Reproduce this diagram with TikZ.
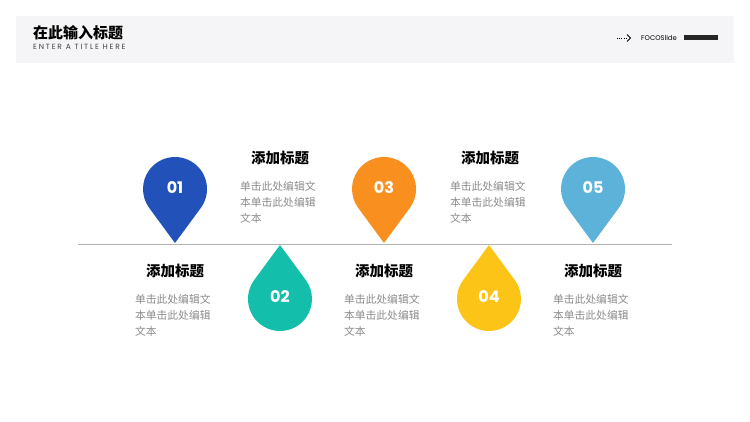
\documentclass[tikz,border=0pt]{standalone}
\usepackage{fontspec}
\setmainfont{Poppins}
\newfontfamily\cjk{Noto Sans CJK SC}
\usetikzlibrary{positioning}

\definecolor{dropblue}{HTML}{2151B9}
\definecolor{dropteal}{HTML}{13BEAA}
\definecolor{droporange}{HTML}{F98F1F}
\definecolor{dropyellow}{HTML}{FBC417}
\definecolor{dropsky}{HTML}{5CB2D9}
\definecolor{bandgray}{HTML}{F5F5F7}
\definecolor{bodygray}{HTML}{8C8C8C}

\begin{document}
\begin{tikzpicture}[x=1pt, y=-1pt,
    pics/waterdrop/.style={code={
      \fill[#1] (0,0) -- (25.8,-35.05) arc[start angle=36.3, end angle=-216.3, radius=32] -- cycle;}},
    num/.style={text=white, font=\fontsize{16}{16}\selectfont\bfseries, inner sep=0pt},
    headline/.style={font=\cjk\fontsize{14.5}{16}\selectfont\bfseries, inner sep=0pt},
    bodytext/.style={font=\cjk\fontsize{10.8}{16}\selectfont, text=bodygray, align=left, text width=80pt, inner sep=0pt}
]
\useasboundingbox (0,0) rectangle (750,422);

% --- header band ---
\fill[bandgray] (16,16) rectangle (734,63);
\node[anchor=west, inner sep=0pt, font=\cjk\fontsize{15}{16}\selectfont\bfseries] (title) at (33,33) {在此输入标题};
\node[anchor=west, inner sep=0pt, text=black!75, font=\fontsize{7.5}{8}\selectfont\addfontfeature{LetterSpace=24}] (subtitle) at (33,47) {ENTER A TITLE HERE};
\node[inner sep=0pt, font=\fontsize{6.8}{8}\selectfont] (brand) at (659,38) {FOCOSlide};
\coordinate (dots-a) at (617,38);
\coordinate (dots-b) at (626,38);
\draw[line width=0.8pt, dash pattern=on 0.8pt off 1.4pt] (dots-a) -- (dots-b);
\draw[line width=0.9pt] (627,34.5) -- (630.5,38) -- (627,41.5);
\fill[black!85] (684,35.5) rectangle (718,40.5);

% --- axis ---
\coordinate (axis-l) at (78,244);
\coordinate (axis-r) at (672,244);
\draw[black!30, line width=0.8pt] (axis-l) -- (axis-r);

% --- drops ---
\pic (d1) at (175,243) {waterdrop=dropblue};
\pic[rotate=180] (d2) at (280,245) {waterdrop=dropteal};
\pic (d3) at (384,243) {waterdrop=droporange};
\pic[rotate=180] (d4) at (489,245) {waterdrop=dropyellow};
\pic (d5) at (593,243) {waterdrop=dropsky};

\node[num] (n1) at (175,188) {01};
\node[num] (n2) at (280,297) {02};
\node[num] (n3) at (384,188) {03};
\node[num] (n4) at (489,297) {04};
\node[num] (n5) at (593,188) {05};

% --- labels above the axis ---
\node[headline] (h2) at (280,158) {添加标题};
\node[bodytext, below=16.5pt of h2] (b2) {单击此处编辑文\\本单击此处编辑\\文本};
\node[headline] (h4) at (490,158) {添加标题};
\node[bodytext, below=16.5pt of h4] (b4) {单击此处编辑文\\本单击此处编辑\\文本};

% --- labels below the axis ---
\node[headline] (h1) at (175,271) {添加标题};
\node[bodytext, below=16.5pt of h1] (b1) {单击此处编辑文\\本单击此处编辑\\文本};
\node[headline] (h3) at (384,271) {添加标题};
\node[bodytext, below=16.5pt of h3] (b3) {单击此处编辑文\\本单击此处编辑\\文本};
\node[headline] (h5) at (593,271) {添加标题};
\node[bodytext, below=16.5pt of h5] (b5) {单击此处编辑文\\本单击此处编辑\\文本};

\end{tikzpicture}
\end{document}
